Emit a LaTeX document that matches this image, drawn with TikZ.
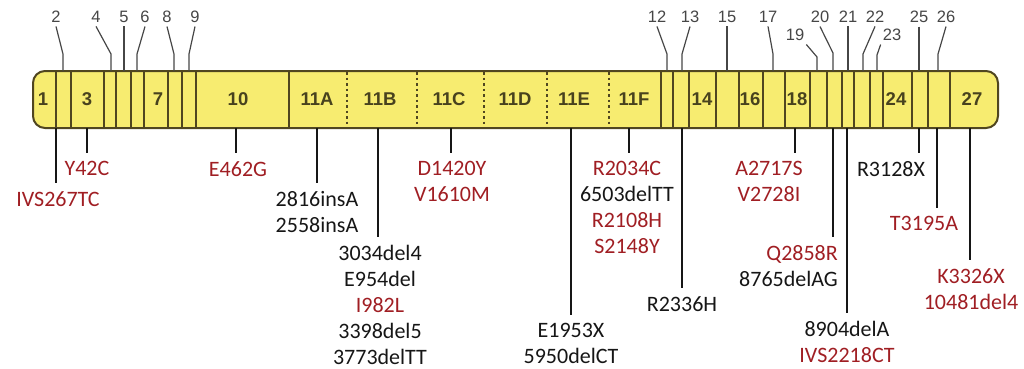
\documentclass[tikz,border=0pt]{standalone}
\usepackage{fontspec}
\setmainfont{Liberation Sans}
\newfontfamily\carlito{Carlito}
\usepackage{xcolor}
\usepackage{tikz}
\definecolor{exonfill}{RGB}{247,236,112}
\definecolor{exonline}{RGB}{80,70,32}
\definecolor{exontext}{RGB}{72,66,30}
\definecolor{leadgray}{RGB}{70,70,70}
\definecolor{mutred}{RGB}{160,30,35}
\definecolor{mutblack}{RGB}{22,22,22}
\newcommand{\rd}[1]{\textcolor{mutred}{#1}}

\begin{document}
\begin{tikzpicture}[x=1pt, y=-1pt,
		exon/.style={exonline, line width=1.3pt},
		subexon/.style={exonline, line width=1.6pt, dash pattern=on 2.5pt off 3pt},
		exnum/.style={font=\bfseries\fontsize{18.5}{20}\selectfont, text=exontext, inner sep=0pt},
		topnum/.style={font=\fontsize{16.5}{18}\selectfont, text=leadgray, inner xsep=2pt, inner ysep=3.5pt},
		lead/.style={leadgray, line width=1.2pt},
		stem/.style={mutblack, line width=1.2pt, shorten >=8.5pt},
		mut/.style={font={\carlito\fontsize{22}{25.8}\selectfont}, text=mutblack, align=center,
			inner sep=0pt, anchor=north, yshift=-8.5pt}]
			\def\bt{71}
			\def\bb{128}
			\useasboundingbox (0,0) rectangle (1024,368);

			% gene bar
			\draw[exonline, line width=2pt, fill=exonfill, rounded corners=12pt] (33,\bt) rectangle (998,\bb);

			% exon borders
			\draw[exon] (56,\bt) -- (56,\bb);
			\draw[exon] (71,\bt) -- (71,\bb);
			\draw[exon] (104,\bt) -- (104,\bb);
			\draw[exon] (116,\bt) -- (116,\bb);
			\draw[exon] (131,\bt) -- (131,\bb);
			\draw[exon] (144,\bt) -- (144,\bb);
			\draw[exon] (168,\bt) -- (168,\bb);
			\draw[exon] (182,\bt) -- (182,\bb);
			\draw[exon] (196,\bt) -- (196,\bb);
			\draw[exon] (289,\bt) -- (289,\bb);
			\draw[exon] (661,\bt) -- (661,\bb);
			\draw[exon] (673,\bt) -- (673,\bb);
			\draw[exon] (689,\bt) -- (689,\bb);
			\draw[exon] (716,\bt) -- (716,\bb);
			\draw[exon] (739,\bt) -- (739,\bb);
			\draw[exon] (763,\bt) -- (763,\bb);
			\draw[exon] (785,\bt) -- (785,\bb);
			\draw[exon] (810,\bt) -- (810,\bb);
			\draw[exon] (827,\bt) -- (827,\bb);
			\draw[exon] (842,\bt) -- (842,\bb);
			\draw[exon] (854,\bt) -- (854,\bb);
			\draw[exon] (870,\bt) -- (870,\bb);
			\draw[exon] (883,\bt) -- (883,\bb);
			\draw[exon] (912,\bt) -- (912,\bb);
			\draw[exon] (928,\bt) -- (928,\bb);
			\draw[exon] (950,\bt) -- (950,\bb);
			% exon 11 parts
			\draw[subexon] (347,\bt+1) -- (347,\bb-1);
			\draw[subexon] (417,\bt+1) -- (417,\bb-1);
			\draw[subexon] (484,\bt+1) -- (484,\bb-1);
			\draw[subexon] (547,\bt+1) -- (547,\bb-1);
			\draw[subexon] (609,\bt+1) -- (609,\bb-1);

			% exon numbers in the bar
			\node[exnum] (n1) at (43,99) {1};
			\node[exnum] (n3) at (87,99) {3};
			\node[exnum] (n7) at (158,99) {7};
			\node[exnum] (n10) at (238,99) {10};
			\node[exnum] (n11A) at (317,99) {11A};
			\node[exnum] (n11B) at (380,99) {11B};
			\node[exnum] (n11C) at (449,99) {11C};
			\node[exnum] (n11D) at (515,99) {11D};
			\node[exnum] (n11E) at (574,99) {11E};
			\node[exnum] (n11F) at (634,99) {11F};
			\node[exnum] (n14) at (702,99) {14};
			\node[exnum] (n16) at (750,99) {16};
			\node[exnum] (n18) at (797,99) {18};
			\node[exnum] (n24) at (896,99) {24};
			\node[exnum] (n27) at (972,99) {27};

			% small exons, labelled above
			\coordinate (x2) at (63,\bt);
			\coordinate (x4) at (111,\bt);
			\coordinate (x5) at (124,\bt);
			\coordinate (x6) at (137,\bt);
			\coordinate (x8) at (174,\bt);
			\coordinate (x9) at (189,\bt);
			\coordinate (x12) at (667,\bt);
			\coordinate (x13) at (682,\bt);
			\coordinate (x15) at (727,\bt);
			\coordinate (x17) at (773,\bt);
			\coordinate (x19) at (817,\bt);
			\coordinate (x20) at (833,\bt);
			\coordinate (x21) at (848,\bt);
			\coordinate (x22) at (863,\bt);
			\coordinate (x23) at (877,\bt);
			\coordinate (x25) at (919,\bt);
			\coordinate (x26) at (938,\bt);

			\node[topnum] (t2) at (56,17) {2};
			\node[topnum] (t4) at (96,17) {4};
			\node[topnum] (t5) at (124,17) {5};
			\node[topnum] (t6) at (145,17) {6};
			\node[topnum] (t8) at (167,17) {8};
			\node[topnum] (t9) at (195,17) {9};
			\node[topnum] (t12) at (657,17) {12};
			\node[topnum] (t13) at (690,17) {13};
			\node[topnum] (t15) at (727,17) {15};
			\node[topnum] (t17) at (768,17) {17};
			\node[topnum] (t19) at (795,35) {19};
			\node[topnum] (t20) at (820,17) {20};
			\node[topnum] (t21) at (848,17) {21};
			\node[topnum] (t22) at (875,17) {22};
			\node[topnum] (t23) at (892,35) {23};
			\node[topnum] (t25) at (919,17) {25};
			\node[topnum] (t26) at (946,17) {26};

			\draw[lead] (t2.south) -- ([yshift=17pt]x2) -- (x2);
			\draw[lead] (t4.south) -- ([yshift=17pt]x4) -- (x4);
			\draw[lead] (t5.south) -- (x5);
			\draw[lead] (t6.south) -- ([yshift=17pt]x6) -- (x6);
			\draw[lead] (t8.south) -- ([yshift=17pt]x8) -- (x8);
			\draw[lead] (t9.south) -- ([yshift=17pt]x9) -- (x9);
			\draw[lead] (t12.south) -- ([yshift=17pt]x12) -- (x12);
			\draw[lead] (t13.south) -- ([yshift=17pt]x13) -- (x13);
			\draw[lead] (t15.south) -- (x15);
			\draw[lead] (t17.south) -- ([yshift=17pt]x17) -- (x17);
			\draw[lead] (t19.south east) -- ([yshift=14pt]x19) -- (x19);
			\draw[lead] (t20.south) -- ([yshift=18pt]x20) -- (x20);
			\draw[lead] (t21.south) -- (x21);
			\draw[lead] (t22.south) -- ([yshift=17pt]x22) -- (x22);
			\draw[lead] (t23.south west) -- ([yshift=16pt]x23) -- (x23);
			\draw[lead] (t25.south) -- (x25);
			\draw[lead] (t26.south) -- ([yshift=17pt]x26) -- (x26);

			% mutations below the bar
			\coordinate (m1) at (56,\bb);
			\coordinate (m2) at (87,\bb);
			\coordinate (m3) at (236,\bb);
			\coordinate (m4) at (317,\bb);
			\coordinate (m5) at (378,\bb);
			\coordinate (m6) at (451,\bb);
			\coordinate (m7) at (571,\bb);
			\coordinate (m8) at (629,\bb);
			\coordinate (m9) at (682,\bb);
			\coordinate (m10) at (795,\bb);
			\coordinate (m11) at (833,\bb);
			\coordinate (m12) at (847,\bb);
			\coordinate (m13) at (919,\bb);
			\coordinate (m14) at (937,\bb);
			\coordinate (m15) at (970,\bb);

			\node[mut] (l1) at (58,183) {\rd{IVS267TC}};
			\node[mut] (l2) at (87,153) {\rd{Y42C}};
			\node[mut] (l3) at (238,153) {\rd{E462G}};
			\node[mut] (l4) at (317,183) {2816insA\\2558insA};
			\node[mut] (l5) at (380,237) {3034del4\\E954del\\\rd{I982L}\\3398del5\\3773delTT};
			\node[mut] (l6) at (452,153) {\rd{D1420Y}\\\rd{V1610M}};
			\node[mut] (l7) at (571,315) {E1953X\\5950delCT};
			\node[mut] (l8) at (627,153) {\rd{R2034C}\\6503delTT\\\rd{R2108H}\\\rd{S2148Y}};
			\node[mut] (l9) at (682,288) {R2336H};
			\node[mut] (l10) at (769,153) {\rd{A2717S}\\\rd{V2728I}};
			\node[mut, anchor=north east, align=right] (l11) at (838,237) {\rd{Q2858R}\\8765delAG};
			\node[mut] (l12) at (847,313) {8904delA\\\rd{IVS2218CT}};
			\node[mut] (l13) at (891,153) {R3128X};
			\node[mut] (l14) at (924,208) {\rd{T3195A}};
			\node[mut] (l15) at (971,260) {\rd{K3326X}\\\rd{10481del4}};

			\draw[stem] (m1) -- (m1 |- l1.north);
			\draw[stem] (m2) -- (m2 |- l2.north);
			\draw[stem] (m3) -- (m3 |- l3.north);
			\draw[stem] (m4) -- (m4 |- l4.north);
			\draw[stem] (m5) -- (m5 |- l5.north);
			\draw[stem] (m6) -- (m6 |- l6.north);
			\draw[stem] (m7) -- (m7 |- l7.north);
			\draw[stem] (m8) -- (m8 |- l8.north);
			\draw[stem] (m9) -- (m9 |- l9.north);
			\draw[stem] (m10) -- (m10 |- l10.north);
			\draw[stem] (m11) -- (m11 |- l11.north);
			\draw[stem] (m12) -- (m12 |- l12.north);
			\draw[stem] (m13) -- (m13 |- l13.north);
			\draw[stem] (m14) -- (m14 |- l14.north);
			\draw[stem] (m15) -- (m15 |- l15.north);

		\end{tikzpicture}
\end{document}
